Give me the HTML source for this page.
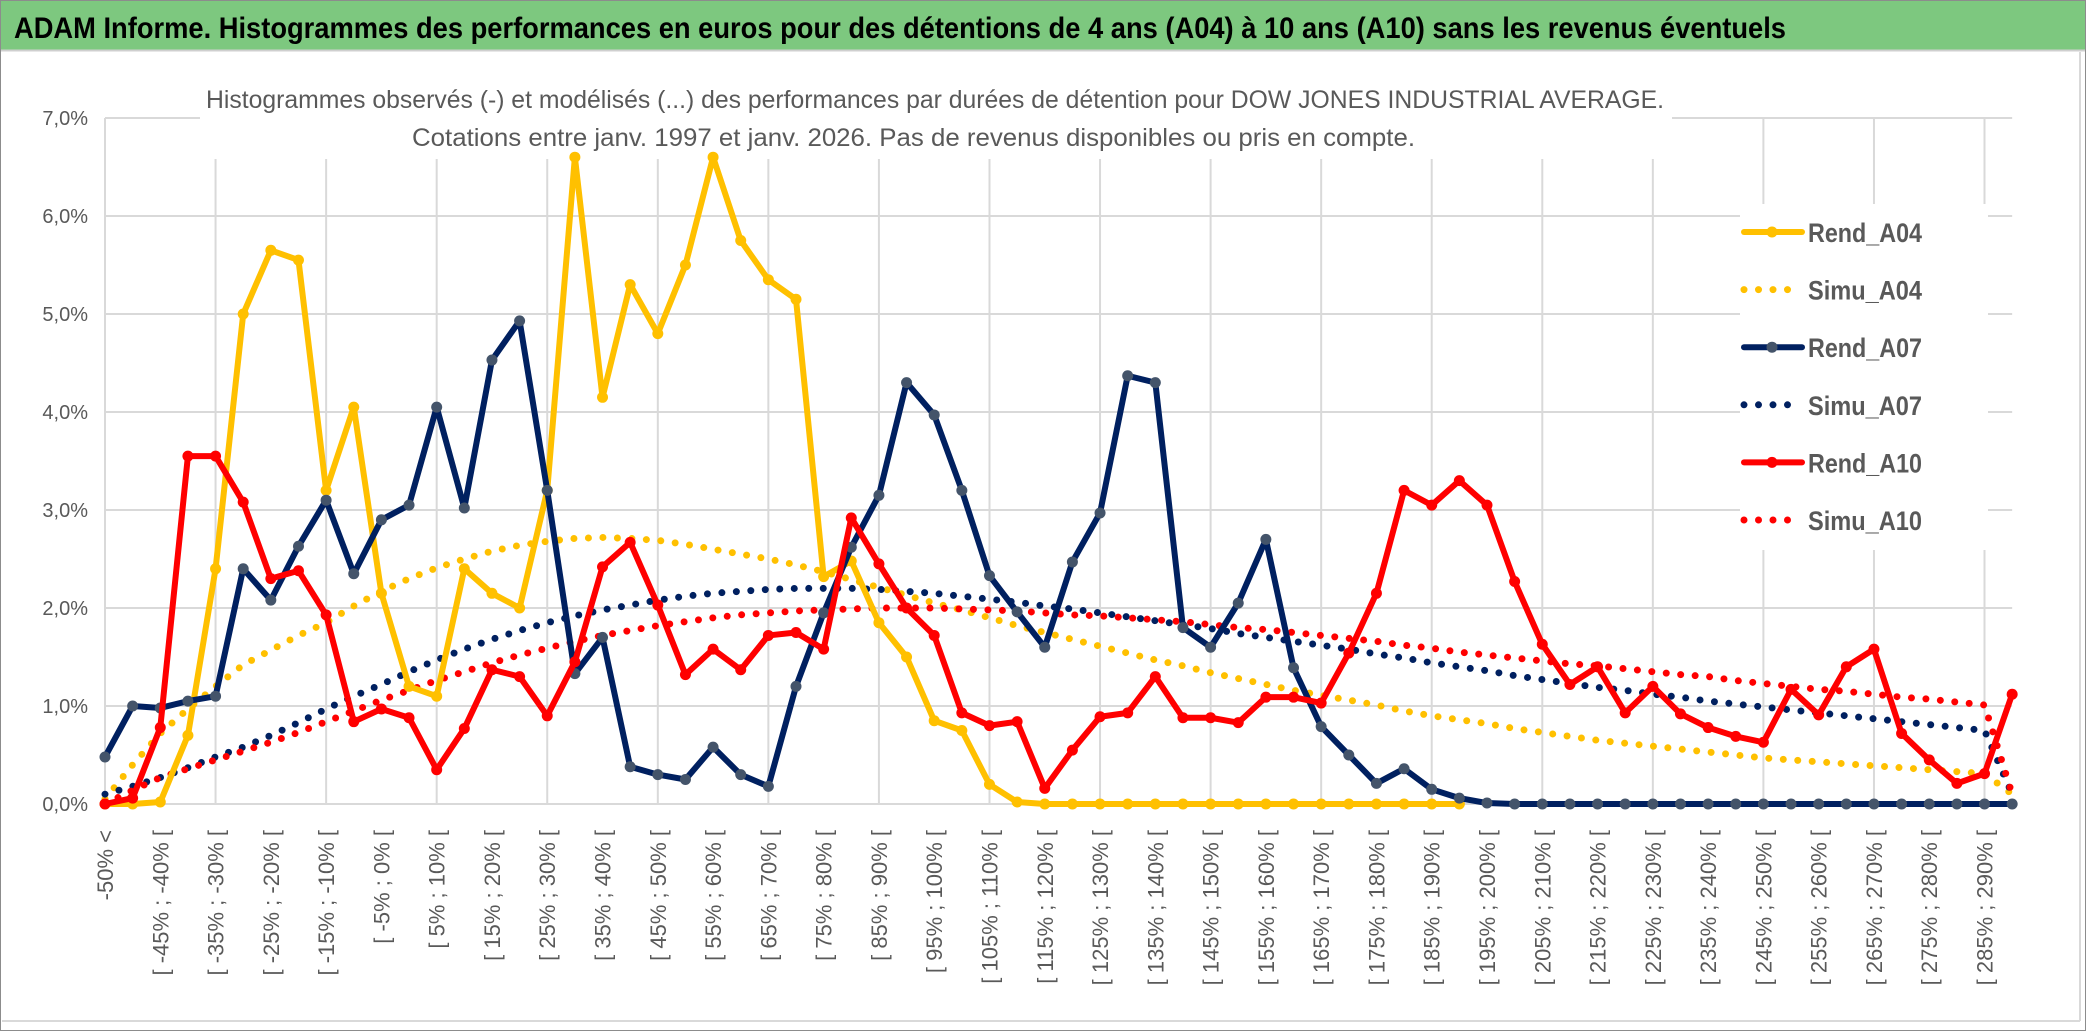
<!DOCTYPE html>
<html><head><meta charset="utf-8"><style>
html,body{margin:0;padding:0;background:#fff;width:2086px;height:1031px;overflow:hidden}
svg{display:block;font-family:"Liberation Sans",sans-serif}
</style></head><body>
<svg id="chart" width="2086" height="1031" viewBox="0 0 2086 1031" xmlns="http://www.w3.org/2000/svg">
<rect x="0.5" y="0.5" width="2085" height="1030" fill="#fff" stroke="#8c8c8c"/>
<rect x="1" y="1" width="2084" height="49" fill="#7DC87F"/>
<line x1="1" y1="50.5" x2="2085" y2="50.5" stroke="#cfcfcf" stroke-width="2"/>
<text x="14" y="38" font-size="30" font-weight="bold" fill="#000" textLength="1772" lengthAdjust="spacingAndGlyphs">ADAM Informe. Histogrammes des performances en euros pour des détentions de 4 ans (A04) à 10 ans (A10) sans les revenus éventuels</text>
<line x1="2080" y1="52" x2="2080" y2="1021" stroke="#d9d9d9" stroke-width="2"/>
<line x1="2" y1="1021" x2="2080" y2="1021" stroke="#d9d9d9" stroke-width="2"/>
<g id="grid"></g>
<g id="covers"></g>
<g id="axes"></g>
<g id="series"></g>
<g id="legend"></g>
</svg>
<script>
const categoryCount = 70;
const yTicks = ["0,0%","1,0%","2,0%","3,0%","4,0%","5,0%","6,0%","7,0%"];
const rendA04 = [0.0,0.0,0.02,0.7,2.4,5.0,5.65,5.55,3.2,4.05,2.15,1.2,1.1,2.4,2.15,2.0,3.2,6.6,4.15,5.3,4.8,5.5,6.6,5.75,5.35,5.15,2.32,2.48,1.85,1.5,0.85,0.75,0.2,0.02,0,0,0,0,0,0,0,0,0,0,0,0,0,0,0,0,null,null,null,null,null,null,null,null,null,null,null,null,null,null,null,null,null,null,null,null];
const simuA04 = [0.05,0.4,0.72,0.97,1.2,1.42,1.57,1.72,1.85,2.02,2.17,2.3,2.41,2.5,2.58,2.64,2.68,2.71,2.72,2.71,2.69,2.65,2.6,2.55,2.5,2.44,2.37,2.29,2.21,2.13,2.05,1.98,1.9,1.82,1.75,1.68,1.61,1.54,1.47,1.41,1.34,1.28,1.22,1.16,1.11,1.06,1.01,0.95,0.9,0.86,0.82,0.77,0.73,0.69,0.65,0.62,0.59,0.56,0.53,0.5,0.47,0.45,0.43,0.41,0.39,0.37,0.35,0.33,0.31,0.1];
const rendA07 = [0.48,1.0,0.98,1.05,1.1,2.4,2.08,2.63,3.1,2.35,2.9,3.05,4.05,3.02,4.53,4.93,3.2,1.33,1.7,0.38,0.3,0.25,0.58,0.3,0.18,1.2,1.95,2.62,3.15,4.3,3.97,3.2,2.33,1.96,1.6,2.47,2.97,4.37,4.3,1.8,1.6,2.05,2.7,1.39,0.79,0.5,0.21,0.36,0.15,0.06,0.01,0,0,0,0,0,0,0,0,0,0,0,0,0,0,0,0,0,0,0];
const simuA07 = [0.1,0.18,0.27,0.37,0.48,0.58,0.7,0.83,0.97,1.1,1.22,1.35,1.47,1.58,1.68,1.77,1.85,1.92,1.98,2.03,2.08,2.12,2.15,2.17,2.19,2.2,2.2,2.2,2.19,2.17,2.15,2.12,2.09,2.06,2.02,1.99,1.95,1.91,1.87,1.83,1.79,1.74,1.7,1.66,1.62,1.58,1.53,1.49,1.44,1.4,1.36,1.31,1.27,1.23,1.19,1.16,1.12,1.09,1.05,1.02,0.99,0.96,0.93,0.9,0.87,0.84,0.81,0.78,0.75,0.1];
const rendA10 = [0.0,0.06,0.78,3.55,3.55,3.08,2.3,2.38,1.93,0.84,0.97,0.88,0.35,0.77,1.37,1.3,0.9,1.45,2.42,2.67,2.03,1.32,1.58,1.37,1.72,1.75,1.58,2.92,2.45,2.0,1.72,0.93,0.8,0.84,0.16,0.55,0.89,0.93,1.3,0.88,0.88,0.83,1.09,1.09,1.03,1.54,2.15,3.2,3.05,3.3,3.05,2.27,1.63,1.22,1.4,0.93,1.2,0.92,0.78,0.69,0.63,1.17,0.91,1.4,1.58,0.72,0.45,0.21,0.31,1.12];
const simuA10 = [0.0,0.14,0.27,0.36,0.45,0.54,0.63,0.73,0.84,0.95,1.06,1.16,1.26,1.35,1.44,1.52,1.59,1.66,1.72,1.77,1.82,1.86,1.9,1.93,1.95,1.97,1.98,1.99,2.0,2.0,2.0,1.99,1.98,1.97,1.95,1.93,1.92,1.9,1.88,1.86,1.83,1.8,1.78,1.75,1.72,1.69,1.66,1.62,1.59,1.55,1.52,1.49,1.46,1.43,1.41,1.38,1.35,1.32,1.3,1.26,1.23,1.2,1.17,1.15,1.12,1.09,1.07,1.04,1.01,0.1];

const NS="http://www.w3.org/2000/svg";
const X0=105, DX=27.64, Y0=804, DY=98;
function xs(i){return X0+i*DX;}
function ys(v){return Y0-v*DY;}
function catLabel(i){ if(i===0) return "-50% <"; const a=-50+5*(i-1); return "[ "+a+"% ; "+(a+5)+"% ["; }
function mk(tag,attrs,parent){const e=document.createElementNS(NS,tag);for(const k in attrs)e.setAttribute(k,attrs[k]);parent.appendChild(e);return e;}
const grid=document.getElementById('grid'), axes=document.getElementById('axes'), ser=document.getElementById('series'), covers=document.getElementById('covers'), leg=document.getElementById('legend');
const xEnd=xs(categoryCount-1);
yTicks.forEach((t,k)=>{
  const l=mk('line',{x1:X0,x2:xEnd,y1:ys(k),y2:ys(k),stroke:'#d9d9d9','stroke-width':2},grid);
  
  
  const tx=mk('text',{x:88,y:ys(k)+7,'font-size':20,fill:'#595959','text-anchor':'end'},axes);
  tx.textContent=t;
  
  
});
for(let i=0;i<categoryCount;i++){
  if(i%4===0){
    const l=mk('line',{x1:xs(i),x2:xs(i),y1:ys(7),y2:Y0,stroke:'#d9d9d9','stroke-width':2},grid);
    
    
  }
  if(i%2===0){
    const tx=mk('text',{x:0,y:0,'font-size':22,fill:'#595959','text-anchor':'end',transform:`translate(${xs(i)+8},830) rotate(-90)`},axes);
    tx.textContent=catLabel(i);
    
    
  }
}
// title box and legend box covering gridlines
mk('rect',{x:200,y:52,width:1472,height:107,fill:'#fff'},covers);
mk('rect',{x:1740,y:204,width:248,height:346,fill:'#fff'},covers);
const st1=mk('text',{x:206,y:108,'font-size':25,fill:'#595959',textLength:1458,lengthAdjust:'spacingAndGlyphs'},covers);
st1.textContent="Histogrammes observés (-) et modélisés (...) des performances par durées de détention pour DOW JONES INDUSTRIAL AVERAGE.";


const st2=mk('text',{x:412,y:146,'font-size':25,fill:'#595959',textLength:1003,lengthAdjust:'spacingAndGlyphs'},covers);
st2.textContent="Cotations entre janv. 1997 et janv. 2026. Pas de revenus disponibles ou pris en compte.";



function dotted(arr,color,name){
  const pts=arr.map((v,i)=>v==null?null:xs(i)+','+ys(v)).filter(p=>p);
  const p=mk('polyline',{points:pts.join(' '),fill:'none',stroke:color,'stroke-width':7,'stroke-linecap':'round','stroke-dasharray':'0 14.5'},ser);
  
  
}
function solid(arr,color,mcolor,name){
  const g=mk('g',{},ser);
  
  
  const pts=arr.map((v,i)=>v==null?null:xs(i)+','+ys(v)).filter(p=>p);
  mk('polyline',{points:pts.join(' '),fill:'none',stroke:color,'stroke-width':6,'stroke-linejoin':'round'},g);
  arr.forEach((v,i)=>{ if(v==null)return;
    const c=mk('circle',{cx:xs(i),cy:ys(v),r:5.5,fill:mcolor},g);
    
    
  });
}
dotted(simuA04,'#FFC000','simu-a04-line');
dotted(simuA07,'#002060','simu-a07-line');
dotted(simuA10,'#FF0000','simu-a10-line');
solid(rendA04,'#FFC000','#FFC000','rend-a04-line');
solid(rendA07,'#002060','#44546A','rend-a07-line');
solid(rendA10,'#FF0000','#FF0000','rend-a10-line');

const legendNames=["Rend_A04","Simu_A04","Rend_A07","Simu_A07","Rend_A10","Simu_A10"];
const legendColors=['#FFC000','#FFC000','#002060','#002060','#FF0000','#FF0000'];
const legendMarkers=['#FFC000',null,'#44546A',null,'#FF0000',null];
legendNames.forEach((n,k)=>{
  const y=232+k*57.6;
  const g=mk('g',{},leg);
  
  
  if(legendMarkers[k]){
    mk('line',{x1:1744,x2:1802,y1:y,y2:y,stroke:legendColors[k],'stroke-width':6,'stroke-linecap':'round'},g);
    mk('circle',{cx:1772,cy:y,r:5.5,fill:legendMarkers[k]},g);
  } else {
    mk('line',{x1:1744,x2:1802,y1:y,y2:y,stroke:legendColors[k],'stroke-width':7,'stroke-linecap':'round','stroke-dasharray':'0 14.5'},g);
  }
  const t=mk('text',{x:1808,y:y+10,'font-size':27,'font-weight':'bold',fill:'#595959',textLength:114,lengthAdjust:'spacingAndGlyphs'},g);
  t.textContent=n;
});
</script>
</body></html>
